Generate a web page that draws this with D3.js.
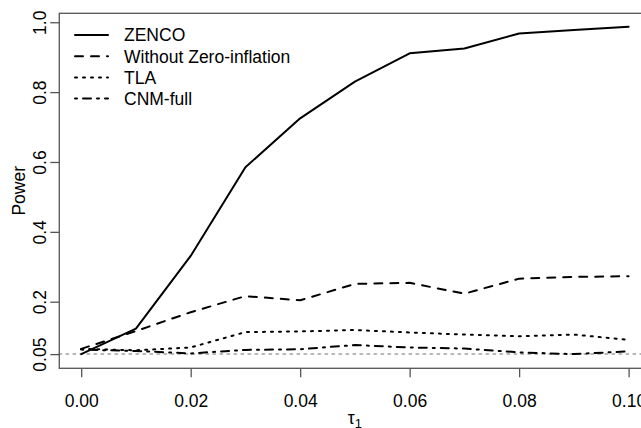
<!DOCTYPE html>
<html>
<head>
<meta charset="utf-8">
<script src="https://cdn.jsdelivr.net/npm/d3@7"></script>
<style>
  body { margin: 0; background: #fff; }
  svg text { font-family: "Liberation Sans", Arial, sans-serif; fill: #000; }
</style>
</head>
<body>
<svg id="chart" width="641" height="428"></svg>
<script>
// tau_1 values (x)
const tau = [0, 0.01, 0.02, 0.03, 0.04, 0.05, 0.06, 0.07, 0.08, 0.09, 0.10]
// power per method
const zenco     = [0.050, 0.123, 0.331, 0.585, 0.725, 0.830, 0.911, 0.925, 0.968, 0.978, 0.987]
const withoutZI = [0.065, 0.116, 0.170, 0.216, 0.204, 0.251, 0.254, 0.223, 0.266, 0.271, 0.273]
const tla       = [0.065, 0.061, 0.069, 0.113, 0.115, 0.119, 0.112, 0.106, 0.101, 0.106, 0.091]
const cnmFull   = [0.063, 0.059, 0.052, 0.062, 0.064, 0.076, 0.069, 0.066, 0.055, 0.050, 0.058]

const methodNames = ["ZENCO", "Without Zero-inflation", "TLA", "CNM-full"]
const xTicks = [0, 0.02, 0.04, 0.06, 0.08, 0.10]
const yTicks = [0.05, 0.2, 0.4, 0.6, 0.8, 1.0]
const nominal = 0.05

const series = [zenco, withoutZI, tla, cnmFull]
// R lty 1..4 at lwd 2 (round caps)
const dashes = [null, "8,8", "2,6", "2,6,8,6"]

const svg = d3.select("#chart")
const fs = 17.5

// plot region (R style, 4% padding on the data range)
const plotL = 59.3, plotR = 650.5, plotT = 13.3, plotB = 368.3
const x = d3.scaleLinear().domain([-0.004, 0.104]).range([plotL, plotR])
const y = d3.scaleLinear().domain([0.0094, 1.0256]).range([plotB, plotT])

// nominal level reference line
svg.append("line")
    .attr("x1", plotL).attr("x2", 641)
    .attr("y1", y(nominal)).attr("y2", y(nominal))
    .attr("stroke", "#b8b8b8").attr("stroke-width", 2)
    .attr("stroke-dasharray", "2,5").attr("stroke-linecap", "round")

const line = d3.line().x((d, i) => x(tau[i])).y(d => y(d))

series.forEach((s, i) => {
    svg.append("path")
        .datum(s)
        .attr("d", line)
        .attr("fill", "none")
        .attr("stroke", "#000")
        .attr("stroke-width", 2)
        .attr("stroke-linecap", "round")
        .attr("stroke-linejoin", "round")
        .attr("stroke-dasharray", dashes[i])
})

// box
svg.append("rect")
    .attr("x", plotL).attr("y", plotT)
    .attr("width", plotR - plotL).attr("height", plotB - plotT)
    .attr("fill", "none").attr("stroke", "#555").attr("stroke-width", 1.3)

// x axis
const gx = svg.append("g")
    .attr("transform", `translate(0,${plotB})`)
    .call(d3.axisBottom(x).tickValues(xTicks).tickFormat(d3.format(".2f")).tickSize(9).tickSizeOuter(0))
gx.select(".domain").remove()
gx.selectAll(".tick line").attr("stroke", "#555").attr("stroke-width", 1.3)
gx.selectAll(".tick text").attr("font-size", fs).attr("y", 26).attr("dy", "0.71em")

// y axis
const gy = svg.append("g")
    .attr("transform", `translate(${plotL},0)`)
    .call(d3.axisLeft(y).tickValues(yTicks).tickFormat(d => d == 0.05 ? "0.05" : d3.format(".1f")(d)).tickSize(9).tickSizeOuter(0))
gy.select(".domain").remove()
gy.selectAll(".tick line").attr("stroke", "#555").attr("stroke-width", 1.3)
gy.selectAll(".tick text")
    .attr("font-size", fs)
    .attr("text-anchor", "middle")
    .attr("transform", "rotate(-90)")
    .attr("x", 0).attr("y", -13).attr("dy", 0)

// axis titles
svg.append("text")
    .attr("transform", `translate(25,${(plotT + plotB) / 2}) rotate(-90)`)
    .attr("text-anchor", "middle")
    .attr("font-size", fs)
    .text("Power")

const xl = svg.append("text")
    .attr("x", (plotL + plotR) / 2).attr("y", 424)
    .attr("text-anchor", "middle")
    .attr("font-size", fs)
xl.append("tspan").text("τ")
xl.append("tspan").attr("dy", 4).attr("font-size", 13).text("1")

// legend
const legend = svg.append("g")
methodNames.forEach((name, i) => {
    const ly = 35 + i * 21.2
    legend.append("line")
        .attr("x1", 75).attr("x2", 108)
        .attr("y1", ly).attr("y2", ly)
        .attr("stroke", "#000")
        .attr("stroke-width", 2)
        .attr("stroke-linecap", "round")
        .attr("stroke-dasharray", dashes[i])
    legend.append("text")
        .attr("x", 124).attr("y", ly + 6.4)
        .attr("font-size", fs)
        .text(name)
})
</script>
</body>
</html>
